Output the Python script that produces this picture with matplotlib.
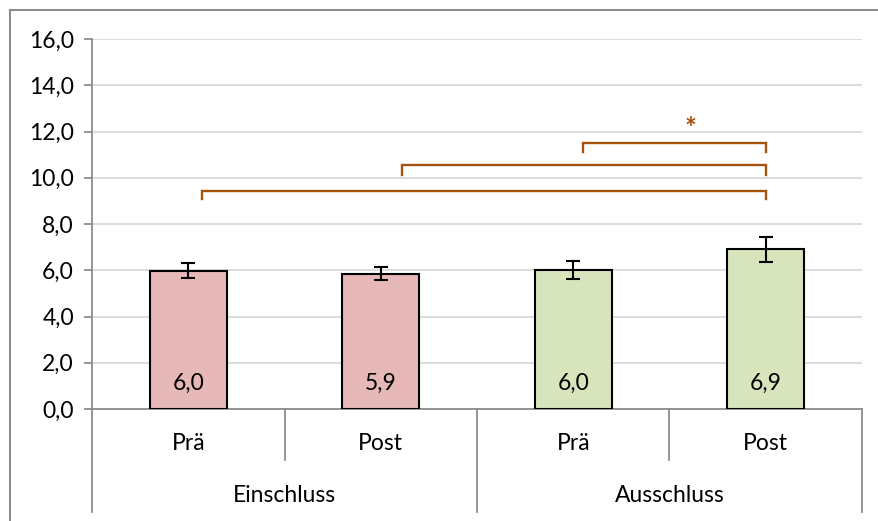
import matplotlib
matplotlib.use("Agg")
import matplotlib.pyplot as plt
from matplotlib.lines import Line2D

plt.rcParams['font.family'] = ['Lato', 'DejaVu Sans']

conditions = ["Prä", "Post", "Prä", "Post"]
groups = ["Einschluss", "Ausschluss"]
values = [5.98, 5.85, 6.0, 6.9]
errors = [0.32, 0.29, 0.38, 0.53]
value_labels = ["6,0", "5,9", "6,0", "6,9"]
bar_colors = ["#E6B8B7", "#E6B8B7", "#D8E4BC", "#D8E4BC"]

# significance brackets: (x_start, x_end, y_line, y_end)
bracket_x0 = [0.07, 1.11, 2.05]
bracket_x1 = [3.0, 3.0, 3.0]
bracket_y = [9.44, 10.54, 11.52]
bracket_drop = [9.07, 10.12, 11.11]
star_label = "*"
star_x = 2.61
star_y = 12.1

yticks = [0, 2, 4, 6, 8, 10, 12, 14, 16]
ytick_labels = ["0,0", "2,0", "4,0", "6,0", "8,0", "10,0", "12,0", "14,0", "16,0"]

FS = 16.5
W, H = 879, 521
fig = plt.figure(figsize=(W / 100, H / 100), dpi=100)
ax = fig.add_axes([92 / W, (H - 409) / H, 770 / W, 370 / H])

x = list(range(len(values)))
ax.bar(x, values, width=0.40, color=bar_colors, edgecolor="black", linewidth=1.5, zorder=3)
ax.errorbar(x, values, yerr=errors, fmt="none", ecolor="black", elinewidth=1.5,
            capsize=5, capthick=1.5, zorder=4)

for xi, lbl in zip(x, value_labels):
    ax.text(xi, 1.1, lbl, ha="center", va="center", fontsize=FS, color="black", zorder=5)

ax.set_xlim(-0.5, 3.5)
ax.set_ylim(0, 16)
ax.set_yticks(yticks)
ax.set_yticklabels(ytick_labels, fontsize=FS, color="black")
ax.set_xticks([])
ax.yaxis.grid(True, color="#D9D9D9", linewidth=1.3, zorder=0)
ax.set_axisbelow(True)
for s in ["top", "right"]:
    ax.spines[s].set_visible(False)
ax.spines["left"].set_color("#8C8C8C")
ax.spines["left"].set_linewidth(1.3)
ax.spines["bottom"].set_color("#8C8C8C")
ax.spines["bottom"].set_linewidth(1.3)
ax.tick_params(axis="y", length=6, width=1.3, color="#8C8C8C", pad=7)

brown = "#A5520F"
for x0, x1, yl, yd in zip(bracket_x0, bracket_x1, bracket_y, bracket_drop):
    ax.plot([x0, x0, x1, x1], [yd, yl, yl, yd], color=brown, linewidth=1.7,
            solid_joinstyle="miter", zorder=5, clip_on=False)
ax.text(star_x, star_y, star_label, ha="center", va="center", fontsize=20,
        fontweight="bold", color=brown, zorder=5)

grey = "#8C8C8C"
def px_x(p):
    return p / W
def px_y(p):
    return 1 - p / H

# multi-level category axis separators
for xp, ybot in [(92, 512), (477, 512), (862, 512), (284.5, 460), (669, 460)]:
    fig.add_artist(Line2D([px_x(xp), px_x(xp)], [px_y(409), px_y(ybot)], color=grey, linewidth=1.3))

for xi, lbl in zip(x, conditions):
    xp = 92 + 192.5 * (xi + 0.5)
    fig.text(px_x(xp), px_y(444), lbl, ha="center", va="center", fontsize=FS, color="black")
for gi, g in enumerate(groups):
    xp = 92 + 385 * (gi + 0.5)
    fig.text(px_x(xp), px_y(495), g, ha="center", va="center", fontsize=FS, color="black")

# outer chart border (extends past the image)
fig.add_artist(Line2D([px_x(10), px_x(10)], [px_y(10), px_y(530)], color=grey, linewidth=1.5))
fig.add_artist(Line2D([px_x(10), px_x(890)], [px_y(10), px_y(10)], color=grey, linewidth=1.5))

fig.savefig("out.png", dpi=100)
